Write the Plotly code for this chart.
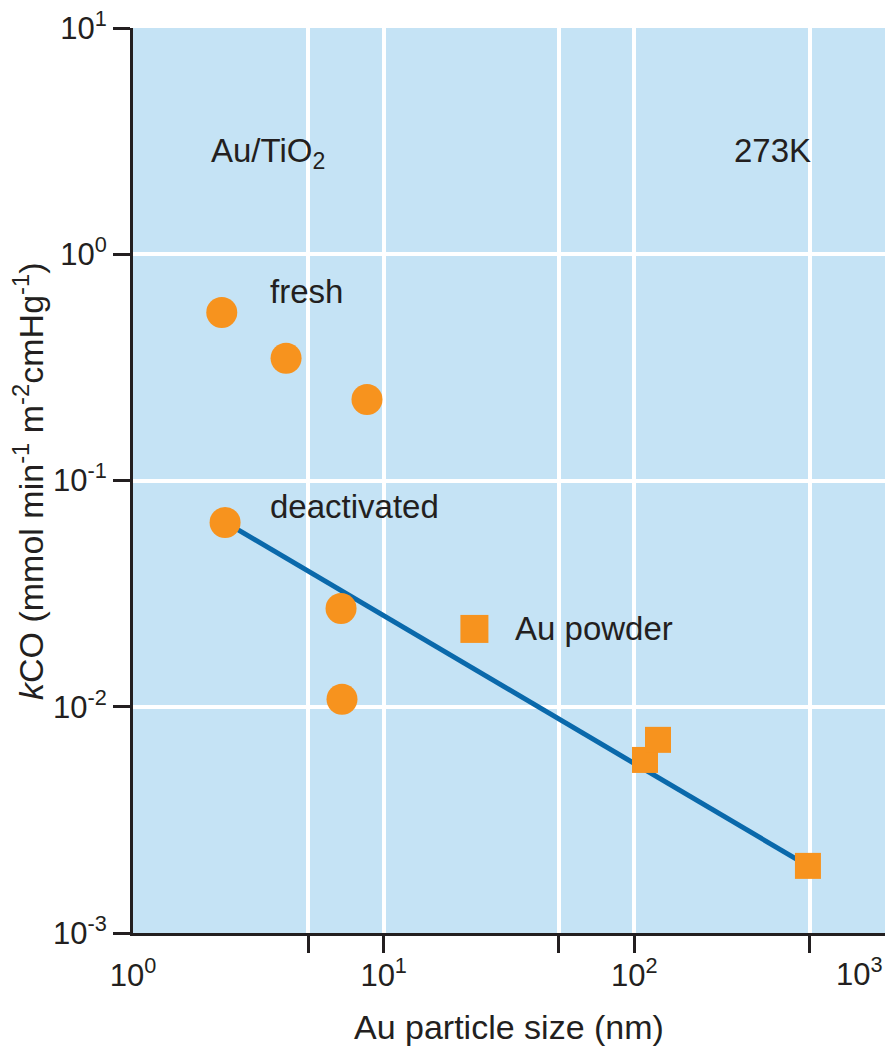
import plotly.graph_objects as go

# Au/TiO2 catalysts at 273 K: CO oxidation rate constant vs Au particle size
fresh_size = [2.26, 4.08, 8.58]
fresh_k = [0.553, 0.347, 0.228]

deact_size = [2.33, 6.76, 6.82]
deact_k = [0.0652, 0.0272, 0.0108]

powder_size = [110.3, 124.3, 492.7]
powder_k = [0.00582, 0.00714, 0.00198]

# straight-line trend through the deactivated catalysts and Au powder (log-log)
fit_size = [2.33, 492.7]
fit_k = [0.0655, 0.00198]

x_ticks = [1, 10, 100]
x_tick_text = ["10<sup>0</sup>", "10<sup>1</sup>", "10<sup>2</sup>"]
x_last_text = "10<sup>3</sup>"
x_grid = [5, 10, 50, 100, 500]
y_ticks = [0.001, 0.01, 0.1, 1, 10]
y_tick_text = ["10<sup>-3</sup>", "10<sup>-2</sup>", "10<sup>-1</sup>", "10<sup>0</sup>", "10<sup>1</sup>"]

ORANGE = "#f7931e"
BLUE = "#0a69ab"
INK = "#231f20"
FONT = "Liberation Sans, Arial, sans-serif"
NARROW = "Liberation Sans Narrow, Arial Narrow, Liberation Sans, sans-serif"

fig = go.Figure()

fig.add_trace(go.Scatter(
    x=fit_size, y=fit_k, mode="lines",
    line=dict(color=BLUE, width=5), showlegend=False, hoverinfo="skip",
))
fig.add_trace(go.Scatter(
    x=fresh_size, y=fresh_k, mode="markers",
    marker=dict(symbol="circle", size=31, color=ORANGE), showlegend=False,
))
fig.add_trace(go.Scatter(
    x=deact_size, y=deact_k, mode="markers",
    marker=dict(symbol="circle", size=31, color=ORANGE), showlegend=False,
))
fig.add_trace(go.Scatter(
    x=powder_size, y=powder_k, mode="markers",
    marker=dict(symbol="square", size=26, color=ORANGE), showlegend=False,
))
# carrier trace for the labelled bottom axis
fig.add_trace(go.Scatter(
    x=[x_ticks[0]], y=[y_ticks[0]], xaxis="x2", mode="markers",
    marker=dict(opacity=0), showlegend=False, hoverinfo="skip",
))

tick_font = dict(family=NARROW, size=31, color=INK)
label_font = dict(family=FONT, size=33, color=INK)
title_font = dict(family=FONT, size=34, color=INK)

fig.update_layout(
    width=887, height=1048,
    margin=dict(l=133, r=2, t=28, b=115),
    paper_bgcolor="white",
    plot_bgcolor="#c5e3f5",
    font=dict(family=FONT, color=INK),
    xaxis=dict(
        type="log", range=[0, 3],
        tickmode="array", tickvals=x_grid, ticktext=[""] * len(x_grid),
        ticks="outside", ticklen=17, tickwidth=3, tickcolor=INK,
        showgrid=True, gridcolor="white", gridwidth=4,
        showline=True, linecolor=INK, linewidth=3,
        zeroline=False,
    ),
    xaxis2=dict(
        type="log", range=[0, 3], overlaying="x", anchor="y", side="bottom",
        tickmode="array", tickvals=x_ticks, ticktext=x_tick_text,
        ticks="outside", ticklen=15, tickcolor="rgba(0,0,0,0)",
        tickfont=tick_font, showgrid=False, showline=False, zeroline=False,
    ),
    yaxis=dict(
        type="log", range=[-3, 1],
        tickmode="array", tickvals=y_ticks, ticktext=y_tick_text,
        ticks="outside", ticklen=17, tickwidth=3, tickcolor=INK,
        tickfont=tick_font,
        showgrid=True, gridcolor="white", gridwidth=4,
        showline=True, linecolor=INK, linewidth=3,
        zeroline=False,
    ),
)

# last x tick label sits flush with the right edge of the plot
fig.add_annotation(
    text=x_last_text, xref="paper", yref="paper",
    x=1.0, y=-0.043, xanchor="right", yanchor="middle",
    showarrow=False, font=tick_font,
)

annotations = [
    dict(text="Au/TiO<sub>2</sub>", x=0.18, y=0.862, xanchor="center", yanchor="middle"),
    dict(text="273K", x=0.85, y=0.865, xanchor="center", yanchor="middle"),
    dict(text="fresh", x=0.179, y=0.709, xanchor="left", yanchor="middle"),
    dict(text="deactivated", x=0.179, y=0.471, xanchor="left", yanchor="middle"),
    dict(text="Au powder", x=0.505, y=0.336, xanchor="left", yanchor="middle"),
]
for a in annotations:
    fig.add_annotation(xref="paper", yref="paper", showarrow=False, font=label_font, **a)

# axis titles
fig.add_annotation(
    text="Au particle size (nm)", xref="paper", yref="paper",
    x=0.5, y=-0.104, xanchor="center", yanchor="middle",
    showarrow=False, font=title_font,
)
fig.add_annotation(
    text="<i>k</i>CO (mmol min<sup>-1</sup> m<sup>-2</sup>cmHg<sup>-1</sup>)",
    xref="paper", yref="paper", x=-0.139, y=0.5, xanchor="center", yanchor="middle",
    textangle=-90, showarrow=False, font=title_font,
)

# key square beside the "Au powder" label
fig.add_shape(
    type="rect", xref="paper", yref="paper",
    xsizemode="pixel", ysizemode="pixel",
    xanchor=0.454, yanchor=0.336,
    x0=-14, x1=14, y0=-14, y1=14,
    fillcolor=ORANGE, line=dict(width=0),
)

fig.write_html("out.html")
